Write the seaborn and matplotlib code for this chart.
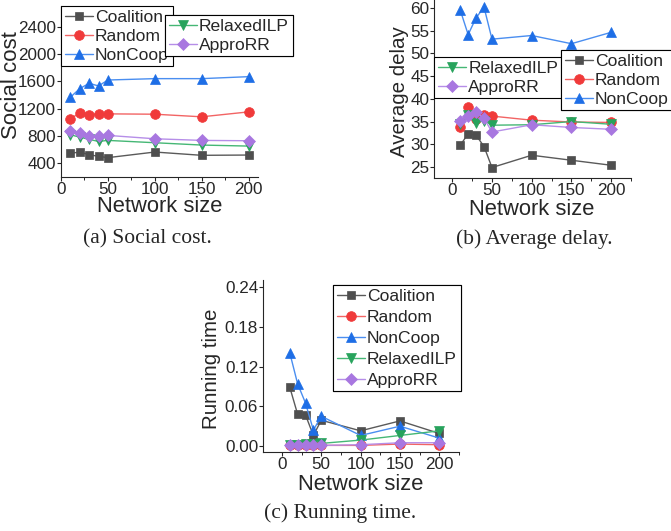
import matplotlib
matplotlib.use("Agg")
import matplotlib.pyplot as plt
from matplotlib.ticker import MultipleLocator
import seaborn as sns

sns.set_style("ticks")
plt.rcParams['font.family'] = ['Liberation Sans', 'DejaVu Sans']

# datos
sizes = [10, 20, 30, 40, 50, 100, 150, 200]
names = ['Coalition', 'Random', 'NonCoop', 'RelaxedILP', 'ApproRR']

cost_coalition = [546, 565, 526, 502, 483, 565, 517, 521]
cost_random = [1055, 1133, 1109, 1128, 1123, 1118, 1080, 1152]
cost_noncoop = [1366, 1492, 1570, 1531, 1618, 1638, 1638, 1667]
cost_relaxed = [817, 783, 750, 720, 735, 701, 667, 652]
cost_appro = [871, 837, 793, 793, 808, 759, 735, 730]

delay_coalition = [29.8, 32.3, 32.0, 29.5, 24.9, 27.6, 26.5, 25.4]
delay_random = [33.7, 38.2, 35.6, 36.4, 36.2, 35.3, 34.9, 34.8]
delay_noncoop = [59.5, 54.1, 57.8, 60.1, 53.1, 53.9, 52.1, 54.6]
delay_relaxed = [34.5, 36.5, 34.7, 35.2, 34.2, 34.3, 35.0, 34.4]
delay_appro = [35.1, 36.3, 37.0, 35.7, 32.7, 34.3, 33.7, 33.3]

time_coalition = [0.089, 0.048, 0.047, 0.016, 0.039, 0.023, 0.038, 0.019]
time_random = [0.001, 0.001, 0.001, 0.001, 0.001, 0.001, 0.003, 0.002]
time_noncoop = [0.141, 0.094, 0.065, 0.024, 0.045, 0.016, 0.030, 0.012]
time_relaxed = [0.002, 0.002, 0.003, 0.003, 0.004, 0.009, 0.016, 0.023]
time_appro = [0.001, 0.001, 0.001, 0.001, 0.001, 0.002, 0.005, 0.005]

# color del marcador y color (mas claro) de la linea
colors = {'Coalition': '#4f4f4f', 'Random': '#f03a3a', 'NonCoop': '#1e6ee6',
          'RelaxedILP': '#27a35c', 'ApproRR': '#a877e0'}
line_colors = {'Coalition': '#5a5a5a', 'Random': '#f26464', 'NonCoop': '#4a8ef0',
               'RelaxedILP': '#45b775', 'ApproRR': '#b68ee8'}
markers = {'Coalition': 's', 'Random': 'o', 'NonCoop': '^',
           'RelaxedILP': 'v', 'ApproRR': 'D'}
msizes = {'Coalition': 6, 'Random': 7, 'NonCoop': 7, 'RelaxedILP': 7, 'ApproRR': 6}

fig = plt.figure(figsize=(6.71, 5.31), dpi=100)
W, H = 671, 531

def make_ax(l, t, r, b):
    return fig.add_axes([l / W, 1 - b / H, (r - l) / W, (b - t) / H])

def draw(ax, series):
    for name, vals in zip(names, series):
        sns.lineplot(x=sizes, y=vals, ax=ax, color=line_colors[name], marker=markers[name],
                     markersize=msizes[name], markerfacecolor=colors[name],
                     markeredgecolor=colors[name], markeredgewidth=0.5,
                     linewidth=1.0, label=name, legend=False)
    sns.despine(ax=ax)
    ax.set_xticks([0, 50, 100, 150, 200])
    ax.xaxis.set_minor_locator(MultipleLocator(25))
    ax.tick_params(labelsize=12.3, direction='out', length=3, width=0.8, pad=0.5)
    ax.tick_params(axis='x', which='minor', direction='out', length=2, width=0.7)
    for s in ax.spines.values():
        s.set_linewidth(0.8)

def add_leg(ax, which, x, y, spacing):
    h, l = ax.get_legend_handles_labels()
    sel = [(hh, ll) for hh, ll in zip(h, l) if ll in which]
    leg = ax.legend([s[0] for s in sel], [s[1] for s in sel], loc='upper left',
                    bbox_to_anchor=(x / W, 1 - y / H), bbox_transform=fig.transFigure,
                    fontsize=12.6, frameon=True, fancybox=False, edgecolor='black',
                    framealpha=1, handlelength=1.6, handletextpad=0.15,
                    labelspacing=spacing, borderpad=0.2, borderaxespad=0)
    leg.get_frame().set_linewidth(0.8)
    ax.add_artist(leg)
    return leg

# (a) coste social
ax1 = make_ax(61, 6, 258, 177)
draw(ax1, [cost_coalition, cost_random, cost_noncoop, cost_relaxed, cost_appro])
ax1.set_xlim(0, 210)
ax1.set_ylim(200, 2700)
ax1.set_yticks([400, 800, 1200, 1600, 2000, 2400])
ax1.set_ylabel('Social cost', fontsize=16)
ax1.yaxis.set_label_coords(-0.2, 0.54)
ax1.set_xlabel('Network size', fontsize=15.8, va='top')
ax1.xaxis.set_label_coords(0.503, -0.114)
add_leg(ax1, ['Coalition', 'Random', 'NonCoop'], 61, 6, 0.22)
add_leg(ax1, ['RelaxedILP', 'ApproRR'], 165, 15, 0.22)

# (b) retraso medio
ax2 = make_ax(434, 0, 631, 178)
draw(ax2, [delay_coalition, delay_random, delay_noncoop, delay_relaxed, delay_appro])
ax2.set_xlim(-23, 225)
ax2.set_ylim(22.6, 61.7)
ax2.set_yticks([25, 30, 35, 40, 45, 50, 55, 60])
ax2.set_ylabel('Average delay', fontsize=14.8)
ax2.yaxis.set_label_coords(-0.125, 0.483)
ax2.set_xlabel('Network size', fontsize=15.8, va='top')
ax2.xaxis.set_label_coords(0.497, -0.12)
add_leg(ax2, ['RelaxedILP', 'ApproRR'], 434, 57, 0.22)
add_leg(ax2, ['Coalition', 'Random', 'NonCoop'], 561, 50, 0.22)

# (c) tiempo de ejecucion
ax3 = make_ax(263, 280, 459, 452)
draw(ax3, [time_coalition, time_random, time_noncoop, time_relaxed, time_appro])
ax3.set_xlim(-24, 225)
ax3.set_ylim(-0.009, 0.251)
ax3.set_yticks([0.0, 0.06, 0.12, 0.18, 0.24])
ax3.set_yticklabels(['0.00', '0.06', '0.12', '0.18', '0.24'])
ax3.set_ylabel('Running time', fontsize=14.8)
ax3.yaxis.set_label_coords(-0.215, 0.483)
ax3.set_xlabel('Network size', fontsize=15.8, va='top')
ax3.xaxis.set_label_coords(0.5, -0.125)
add_leg(ax3, names, 333, 285, 0.33)

cap = dict(fontsize=15.5, family=['Liberation Serif', 'DejaVu Serif'], ha='center', va='center')
fig.text(147 / W, 1 - 239 / H, '(a) Social cost.', **cap)
fig.text(534 / W, 1 - 239 / H, '(b) Average delay.', **cap)
fig.text(340 / W, 1 - 513 / H, '(c) Running time.', **cap)

fig.savefig('out.png', dpi=100)
